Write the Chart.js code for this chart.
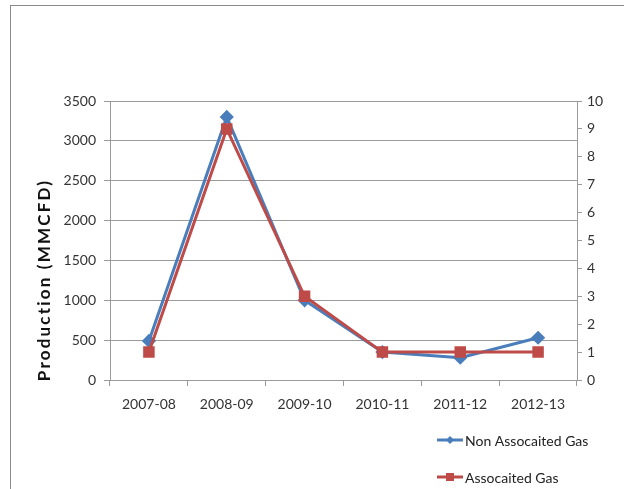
<!DOCTYPE html>
<html>
<head>
<meta charset="utf-8">
<script src="https://cdn.jsdelivr.net/npm/chart.js@4/dist/chart.umd.min.js"></script>
<style>
  html, body { margin: 0; padding: 0; background: #fff; overflow: hidden; }
  #wrap { position: relative; width: 624px; height: 489px; }
  #frame { position: absolute; left: 10px; top: 5px; width: 700px; height: 600px; border: 1px solid #8a8a8a; }
  canvas { position: absolute; left: 0; top: 0; }
</style>
</head>
<body>
<div id="wrap">
  <div id="frame"></div>
  <canvas id="gasChart" width="624" height="489"></canvas>
</div>
<script>
// chart values
const years = ['2007-08', '2008-09', '2009-10', '2010-11', '2011-12', '2012-13'];
const nonAssociatedGas = [490, 3300, 1000, 350, 280, 530];   // left axis, MMCFD
const associatedGas = [1, 9, 3, 1, 1, 1];                     // right axis
const leftTicks = { min: 0, max: 3500, step: 500 };
const rightTicks = { min: 0, max: 10, step: 1 };
const leftTitle = 'Production (MMCFD)';

const FONT = 'Lato, "Open Sans", sans-serif';
const gridColor = '#9a9a9a';

// two-row legend under the plot, right side + spaced-out axis title
const extras = {
  id: 'extras',
  afterDraw(chart) {
    const ctx = chart.ctx;
    chart.data.datasets.forEach((ds, i) => {
      const x = 437, y = 440 + i * 37;
      ctx.save();
      ctx.strokeStyle = ds.borderColor;
      ctx.lineWidth = 3;
      ctx.beginPath();
      ctx.moveTo(x, y);
      ctx.lineTo(x + 26, y);
      ctx.stroke();
      ctx.fillStyle = ds.pointBackgroundColor;
      if (ds.pointStyle === 'rectRot') {
        ctx.beginPath();
        ctx.moveTo(x + 13, y - 4);
        ctx.lineTo(x + 17, y);
        ctx.lineTo(x + 13, y + 4);
        ctx.lineTo(x + 9, y);
        ctx.closePath();
        ctx.fill();
      } else {
        ctx.fillRect(x + 9, y - 4, 8, 8);
      }
      ctx.fillStyle = '#222';
      ctx.font = '14px ' + FONT;
      ctx.textBaseline = 'middle';
      ctx.fillText(ds.label, x + 28, y + 1);
      ctx.restore();
    });

    ctx.save();
    ctx.translate(45, 280);
    ctx.rotate(-Math.PI / 2);
    ctx.font = 'bold 17px ' + FONT;
    ctx.letterSpacing = '2.2px';
    ctx.fillStyle = '#111';
    ctx.textAlign = 'center';
    ctx.textBaseline = 'middle';
    ctx.fillText(leftTitle, 0, 0);
    ctx.restore();
  }
};

const ctx = document.getElementById('gasChart').getContext('2d');

const chart = new Chart(ctx, {
  type: 'line',
  data: {
    labels: years,
    datasets: [
      {
        label: 'Non Assocaited Gas',
        data: nonAssociatedGas,
        yAxisID: 'y',
        borderColor: '#4a7ebb',
        backgroundColor: '#4a7ebb',
        pointBackgroundColor: '#4a7ebb',
        pointBorderColor: '#4a7ebb',
        pointStyle: 'rectRot',
        pointRadius: 5,
        borderWidth: 3,
        tension: 0,
        order: 1
      },
      {
        label: 'Assocaited Gas',
        data: associatedGas,
        yAxisID: 'y1',
        borderColor: '#be4b48',
        backgroundColor: '#be4b48',
        pointBackgroundColor: '#be4b48',
        pointBorderColor: '#be4b48',
        pointStyle: 'rect',
        pointRadius: 6,
        borderWidth: 3,
        tension: 0,
        order: 0
      }
    ]
  },
  options: {
    responsive: false,
    animation: false,
    layout: { padding: { left: 30, right: 17, top: 101, bottom: 69 } },
    plugins: {
      legend: { display: false },
      tooltip: { enabled: false }
    },
    scales: {
      x: {
        offset: true,
        grid: { display: true, drawOnChartArea: false, offset: true, tickLength: 6, color: gridColor },
        border: { color: gridColor },
        ticks: { color: '#333', font: { family: FONT, size: 14 }, padding: 10, maxRotation: 0 },
        afterFit(scale) { scale.height = 40; }
      },
      y: {
        position: 'left',
        min: leftTicks.min,
        max: leftTicks.max,
        ticks: {
          stepSize: leftTicks.step,
          color: '#333',
          font: { family: FONT, size: 14 },
          padding: 8,
          callback: (v) => String(v)
        },
        grid: { color: gridColor, tickLength: 6 },
        border: { color: gridColor },
        afterFit(scale) { scale.width = 80; }
      },
      y1: {
        position: 'right',
        min: rightTicks.min,
        max: rightTicks.max,
        ticks: { stepSize: rightTicks.step, color: '#333', font: { family: FONT, size: 14 }, padding: 5 },
        grid: { drawOnChartArea: false, color: gridColor, tickLength: 5 },
        border: { color: gridColor },
        afterFit(scale) { scale.width = 30; }
      }
    }
  },
  plugins: [extras]
});
</script>
</body>
</html>
